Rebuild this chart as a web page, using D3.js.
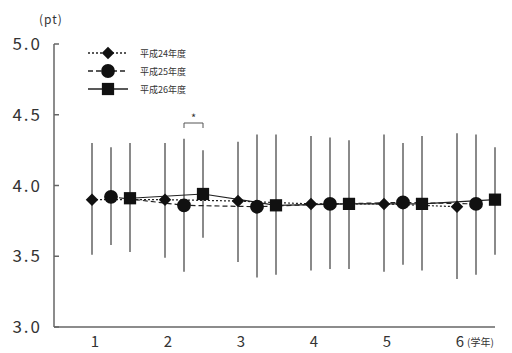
<!DOCTYPE html>
<html>
<head>
<meta charset="utf-8">
<script src="https://cdn.jsdelivr.net/npm/d3@7"></script>
<style>
body{margin:0;background:#fff;}
text{font-family:"Noto Sans CJK JP","Noto Sans",sans-serif;fill:#333;}
</style>
</head>
<body>
<div class="chart"></div>
<script>
// grades and survey years
const grades = [1, 2, 3, 4, 5, 6];
const seriesNames = ["平成24年度", "平成25年度", "平成26年度"];
const yTicks = [3.0, 3.5, 4.0, 4.5, 5.0];

// means and upper/lower ends of the bars, per grade
const h24Mean = [3.90, 3.90, 3.89, 3.87, 3.87, 3.85];
const h24Upper = [4.30, 4.30, 4.31, 4.35, 4.36, 4.37];
const h24Lower = [3.51, 3.49, 3.46, 3.40, 3.39, 3.34];
const h25Mean = [3.92, 3.86, 3.85, 3.87, 3.88, 3.87];
const h25Upper = [4.27, 4.33, 4.36, 4.34, 4.30, 4.36];
const h25Lower = [3.58, 3.39, 3.35, 3.41, 3.44, 3.37];
const h26Mean = [3.91, 3.94, 3.86, 3.87, 3.87, 3.90];
const h26Upper = [4.30, 4.25, 4.36, 4.32, 4.35, 4.27];
const h26Lower = [3.53, 3.63, 3.37, 3.41, 3.40, 3.51];

// diamond = square turned 45deg
const series = [
  {name: seriesNames[0], mean: h24Mean, up: h24Upper, lo: h24Lower, shape: d3.symbolSquare, size: 78, rot: 45, dash: "2,2"},
  {name: seriesNames[1], mean: h25Mean, up: h25Upper, lo: h25Lower, shape: d3.symbolCircle, size: 150, rot: 0, dash: "5,3"},
  {name: seriesNames[2], mean: h26Mean, up: h26Upper, lo: h26Lower, shape: d3.symbolSquare, size: 150, rot: 0, dash: null}
];

const outerWidth = 512, outerHeight = 353;
const svg = d3.select(".chart").append("svg")
  .attr("width", outerWidth)
  .attr("height", outerHeight);

const xScale = d3.scalePoint().domain(grades).range([92, 457]);
const offset = d3.scalePoint().domain(seriesNames).range([0, 38]);
const yScale = d3.scaleLinear().domain([3, 5]).range([327, 44]);

// axes
svg.append("line")
  .attr("x1", 54).attr("x2", 54)
  .attr("y1", yScale(5)).attr("y2", yScale(3))
  .attr("stroke", "#666").attr("stroke-width", 1.5);
svg.append("line")
  .attr("x1", 54).attr("x2", 495)
  .attr("y1", yScale(3)).attr("y2", yScale(3))
  .attr("stroke", "#666").attr("stroke-width", 1.5);

svg.selectAll(".ytick").data(yTicks).enter().append("line")
  .attr("x1", 54).attr("x2", 59)
  .attr("y1", d => yScale(d)).attr("y2", d => yScale(d))
  .attr("stroke", "#666").attr("stroke-width", 1.5);

svg.selectAll(".ylab").data(yTicks).enter().append("text")
  .attr("x", 42).attr("y", d => yScale(d) + 6)
  .attr("text-anchor", "end")
  .style("font-size", "17px")
  .style("letter-spacing", "2px")
  .text(d => d.toFixed(1));

svg.append("text").attr("x", 39).attr("y", 24)
  .style("font-size", "12px").style("letter-spacing", "1px").text("(pt)");

svg.selectAll(".xlab").data(grades).enter().append("text")
  .attr("x", d => xScale(d) + 3).attr("y", 347)
  .attr("text-anchor", "middle")
  .style("font-size", "15px")
  .text(d => d);

svg.append("text").attr("x", 467).attr("y", 346)
  .style("font-size", "10px").text("(学年)");

// error bars
series.forEach(s => {
  svg.append("g").selectAll("line").data(grades).enter().append("line")
    .attr("x1", g => xScale(g) + offset(s.name))
    .attr("x2", g => xScale(g) + offset(s.name))
    .attr("y1", (g, i) => yScale(s.up[i]))
    .attr("y2", (g, i) => yScale(s.lo[i]))
    .attr("stroke", "#8a8a8a").attr("stroke-width", 2);
});

// connecting lines
series.forEach(s => {
  const line = d3.line()
    .x(g => xScale(g) + offset(s.name))
    .y((g, i) => yScale(s.mean[i]));
  svg.append("path").datum(grades)
    .attr("d", line)
    .attr("fill", "none")
    .attr("stroke", "#222")
    .attr("stroke-width", 1.2)
    .attr("stroke-dasharray", s.dash);
});

// markers
series.forEach(s => {
  svg.append("g").selectAll("path").data(grades).enter().append("path")
    .attr("transform", (g, i) => `translate(${xScale(g) + offset(s.name)},${yScale(s.mean[i])}) rotate(${s.rot})`)
    .attr("d", d3.symbol().type(s.shape).size(s.size))
    .attr("fill", "#111");
});

// significance bracket between H25 and H26 at grade 2
const bx1 = xScale(2) + offset(seriesNames[1]);
const bx2 = xScale(2) + offset(seriesNames[2]);
svg.append("path")
  .attr("d", `M${bx1},128V123H${bx2}V128`)
  .attr("fill", "none").attr("stroke", "#555").attr("stroke-width", 1);
svg.append("text").attr("x", (bx1 + bx2) / 2).attr("y", 122)
  .attr("text-anchor", "middle").style("font-size", "11px").text("*");

// legend
const legend = svg.append("g").attr("transform", "translate(88,53)");
series.forEach((s, i) => {
  const row = legend.append("g").attr("transform", `translate(0,${i * 18})`);
  row.append("line").attr("x1", 0).attr("x2", 40).attr("y1", 0).attr("y2", 0)
    .attr("stroke", "#222").attr("stroke-width", 1.5)
    .attr("stroke-dasharray", s.dash);
  row.append("path").attr("transform", `translate(20,0) rotate(${s.rot})`)
    .attr("d", d3.symbol().type(s.shape).size(s.size))
    .attr("fill", "#111");
  row.append("text").attr("x", 52).attr("y", 4)
    .style("font-size", "9px").text(s.name);
});
</script>
</body>
</html>
